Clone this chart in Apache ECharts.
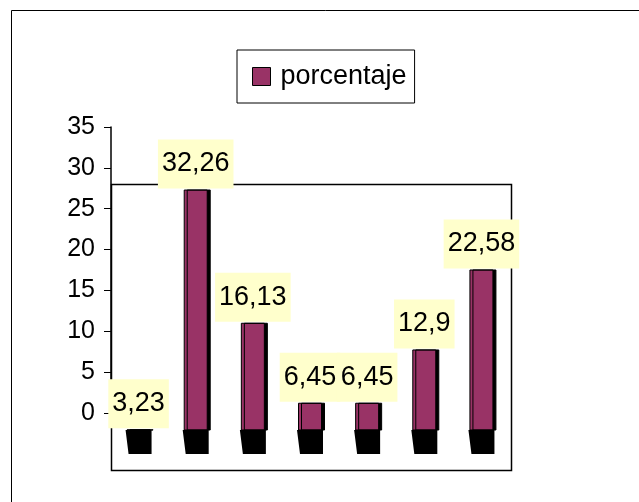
<!DOCTYPE html>
<html><head><meta charset="utf-8">
<script src="https://cdn.jsdelivr.net/npm/echarts@6/dist/echarts.min.js"></script>
<style>html,body{margin:0;padding:0;background:#fff}#c{width:639px;height:502px}</style>
</head><body><div id="c"></div>
<script>
const categories = ['1', '2', '3', '4', '5', '6', '7'];
const seriesName = 'porcentaje';
const values = [3.23, 32.26, 16.13, 6.45, 6.45, 12.9, 22.58];
const valueLabels = ['3,23', '32,26', '16,13', '6,45', '6,45', '12,9', '22,58'];
const yTicks = [0, 5, 10, 15, 20, 25, 30, 35];

const FONT = '"Liberation Sans", Arial, sans-serif';
const chart = echarts.init(document.getElementById('c'), null, {renderer: 'canvas'});

function renderBase(params, api) {
  const cs = params.coordSys;
  const c = api.coord([api.value(0), api.value(1)]);
  const x = c[0];
  const y0 = cs.y + cs.height;
  return {
    type: 'polygon',
    shape: {points: [[x - 13, y0], [x + 13, y0], [x + 13, y0 + 24], [x - 10, y0 + 24]]},
    style: {fill: '#000'}
  };
}

const option = {
  animation: false,
  backgroundColor: '#fff',
  graphic: [
    {type: 'rect', shape: {x: 11.5, y: 10.5, width: 700, height: 600}, style: {fill: 'none', stroke: '#000', lineWidth: 1}, silent: true, z: -10},
    {type: 'rect', shape: {x: 111.5, y: 184.5, width: 400, height: 286}, style: {fill: 'none', stroke: '#000', lineWidth: 1.5}, silent: true, z: -5}
  ],
  legend: {
    data: [seriesName],
    left: 237, top: 50,
    padding: [13, 8, 13, 15],
    borderColor: '#000', borderWidth: 1,
    itemWidth: 18, itemHeight: 18,
    icon: 'rect',
    itemStyle: {color: '#993366', borderColor: '#000', borderWidth: 1, shadowColor: 'rgba(0,0,0,0)', shadowOffsetX: 0, shadowBlur: 0},
    textStyle: {fontSize: 27, color: '#000', fontFamily: FONT, padding: [0, 0, 0, 5]}
  },
  grid: [
    {left: 111, top: 127, width: 401, height: 286},
    {left: 110, top: 184, width: 400, height: 246}
  ],
  xAxis: [
    {gridIndex: 0, type: 'category', data: categories, show: false},
    {gridIndex: 1, type: 'category', data: categories, show: false}
  ],
  yAxis: [
    {
      gridIndex: 0, type: 'value',
      min: yTicks[0], max: yTicks[yTicks.length - 1], interval: yTicks[1] - yTicks[0],
      axisLine: {show: true, lineStyle: {color: '#000', width: 1.5}},
      axisTick: {show: true, length: 7, lineStyle: {color: '#000', width: 1}},
      axisLabel: {fontSize: 25, color: '#000', fontFamily: FONT, margin: 16},
      splitLine: {show: false}
    },
    {gridIndex: 1, type: 'value', min: 3.15, max: 32.93, show: false}
  ],
  series: [
    {
      type: 'custom', xAxisIndex: 1, yAxisIndex: 1,
      data: values.map((v, i) => [i, v]),
      renderItem: renderBase, silent: true, z: 1
    },
    {
      type: 'bar', name: seriesName, xAxisIndex: 1, yAxisIndex: 1,
      data: values, barWidth: 24, z: 3,
      itemStyle: {color: '#993366', borderColor: '#000', borderWidth: 1, shadowColor: '#000', shadowOffsetX: 3, shadowOffsetY: 0, shadowBlur: 0},
      label: {
        show: true, position: 'top', distance: 1,
        formatter: p => valueLabels[p.dataIndex],
        fontSize: 27, color: '#000', fontFamily: FONT, lineHeight: 25,
        backgroundColor: '#FFFFCC', padding: [12, 4, 12, 4]
      }
    }
  ]
};
chart.setOption(option);
</script>
</body></html>
